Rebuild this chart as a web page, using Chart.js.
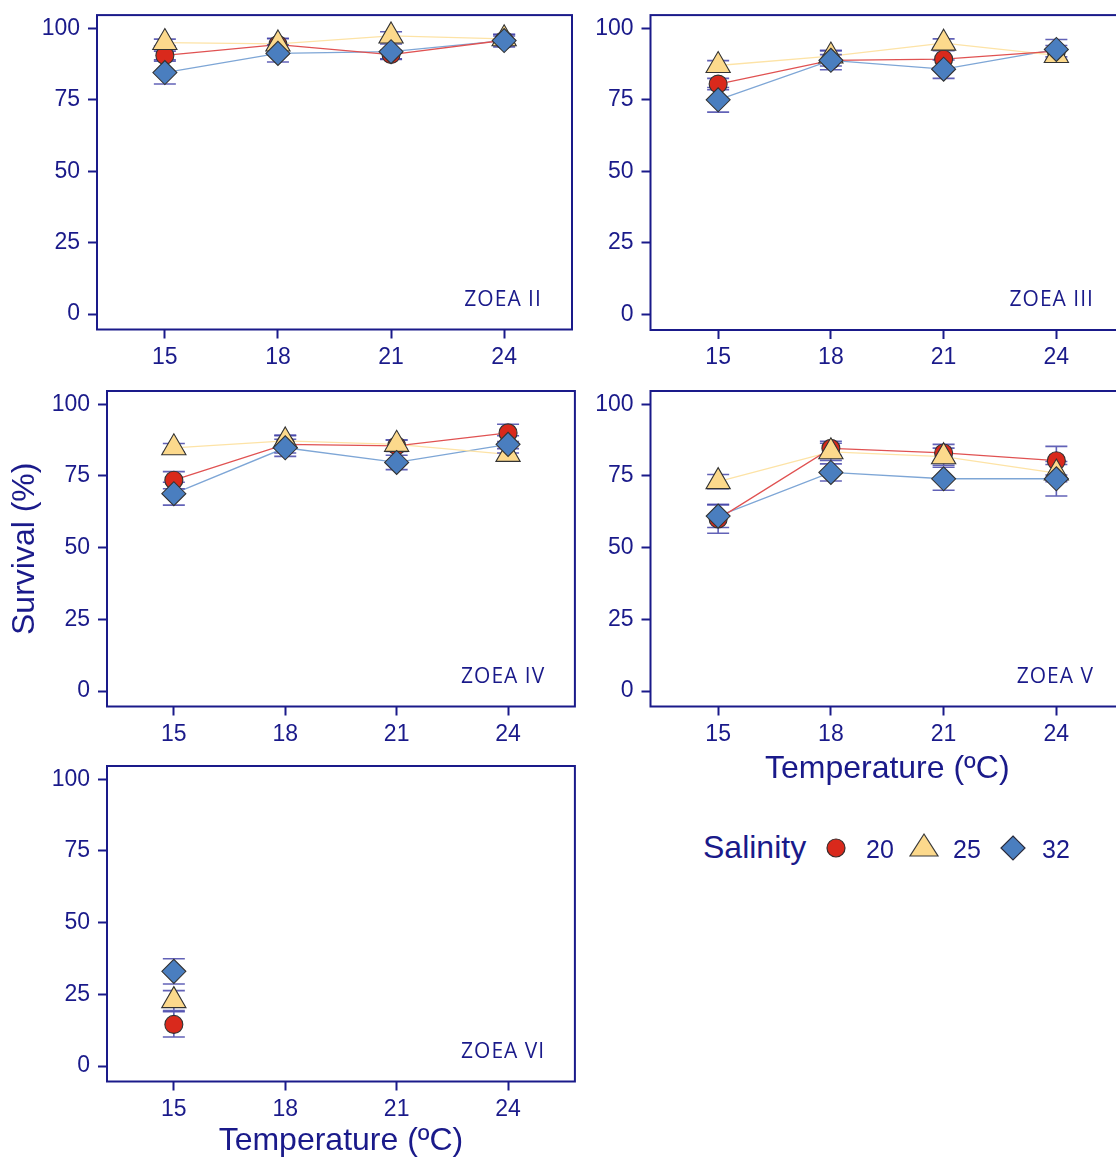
<!DOCTYPE html>
<html>
<head>
<meta charset="utf-8">
<script src="https://cdn.jsdelivr.net/npm/chart.js@4.4.1/dist/chart.umd.min.js"></script>
<style>
  html, body { margin: 0; padding: 0; background: #fff; }
  body { width: 1116px; height: 1160px; overflow: hidden; position: relative; font-family: "Liberation Sans", Arial, sans-serif; color: #1a1a8a; }
  canvas { position: absolute; }
  .lg { position: absolute; white-space: nowrap; line-height: 30px; }
  .lg svg { position: absolute; overflow: visible; }
</style>
</head>
<body>
<canvas id="c1"></canvas>
<canvas id="c2"></canvas>
<canvas id="c3"></canvas>
<canvas id="c4"></canvas>
<canvas id="c5"></canvas>

<div class="lg" style="left:703px; top:832px; font-size:32px;">Salinity</div>
<svg class="lg" style="left:0; top:0;" width="1116" height="1160">
  <circle cx="836" cy="848" r="9" fill="#d9291c" stroke="#3a2a2a" stroke-width="1.2"/>
  <polygon points="924,834 938,856 910,856" fill="#fcd98c" stroke="#3a3a3a" stroke-width="1.2"/>
  <polygon points="1013,836 1025,848 1013,860 1001,848" fill="#4a7ebf" stroke="#2a2a3a" stroke-width="1.2"/>
</svg>
<div class="lg" style="left:866px; top:834px; font-size:25px;">20</div>
<div class="lg" style="left:953px; top:834px; font-size:25px;">25</div>
<div class="lg" style="left:1042px; top:834px; font-size:25px;">32</div>

<script>
// temperatures (x axis) and y ticks
const temps = [15, 18, 21, 24];
const yTicks = [0, 25, 50, 75, 100];
const salinities = ['20', '25', '32'];

// survival (%) means and error bars, per stage and salinity
const zoeaII_20 = [90.5, 94.3, 90.8, 95.8];
const zoeaII_20_err = [1.5, 2, 1.5, 1.5];
const zoeaII_25 = [95.0, 94.5, 97.3, 96.3];
const zoeaII_25_err = [1.2, 2, 1.5, 1.5];
const zoeaII_32 = [84.5, 91.2, 91.8, 95.7];
const zoeaII_32_err = [4, 3, 2.7, 2.2];

const zoeaIII_20 = [80.5, 88.8, 89.2, 92.0];
const zoeaIII_20_err = [2, 2, 3, 2];
const zoeaIII_25 = [87.0, 90.3, 94.8, 90.5];
const zoeaIII_25_err = [1.7, 2, 1.5, 2];
const zoeaIII_32 = [75.0, 88.8, 85.7, 92.6];
const zoeaIII_32_err = [4.3, 3.3, 3.2, 3.5];

const zoeaIV_20 = [73.5, 86.0, 85.5, 90.0];
const zoeaIV_20_err = [3, 3, 2, 3];
const zoeaIV_25 = [84.8, 87.2, 86.0, 82.5];
const zoeaIV_25_err = [1.5, 2, 1.5, 2];
const zoeaIV_32 = [68.8, 84.8, 79.7, 86.0];
const zoeaIV_32_err = [4, 3, 2.5, 3];

const zoeaV_20 = [60.0, 84.6, 83.0, 80.3];
const zoeaV_20_err = [5, 2.5, 3, 5];
const zoeaV_25 = [73.0, 83.4, 81.7, 76.0];
const zoeaV_25_err = [2.5, 3, 3, 3];
const zoeaV_32 = [61.0, 76.2, 74.0, 74.0];
const zoeaV_32_err = [4, 3, 4, 6];

const zoeaVI_20 = [14.5];
const zoeaVI_20_err = [4.4];
const zoeaVI_25 = [22.8];
const zoeaVI_25_err = [3.5];
const zoeaVI_32 = [33.0];
const zoeaVI_32_err = [4.4];

const NAVY = '#1a1a8a';
const TICK_FONT = { family: '"Liberation Sans", Arial, sans-serif', size: 23 };
const TITLE_FONT = { family: '"Liberation Sans", Arial, sans-serif', size: 32 };

// marker / line styles per salinity
const styles = [
  { fill: '#d9291c', line: '#e05252', shape: 'circle', r: 9 },
  { fill: '#fcd98c', line: '#fde3a6', shape: 'triangle', r: 14 },
  { fill: '#4a7ebf', line: '#7ea6d6', shape: 'rectRot', r: 12 }
];

const errPlugin = {
  id: 'errbars',
  beforeDatasetsDraw(chart) {
    chart.$errDone = false;
    const a = chart.chartArea, ctx = chart.ctx;
    ctx.save();
    ctx.strokeStyle = NAVY;
    ctx.lineWidth = 2;
    ctx.strokeRect(a.left, a.top, a.right - a.left, a.bottom - a.top);
    // stage label
    const x = chart.scales.x, y = chart.scales.y;
    ctx.fillStyle = NAVY;
    ctx.font = '21px "Open Sans", sans-serif';
    ctx.letterSpacing = '1px';
    ctx.textAlign = 'right';
    ctx.textBaseline = 'middle';
    ctx.fillText(chart.options.plugins.errbars.label, x.getPixelForValue(25), y.getPixelForValue(5));
    ctx.restore();
  },
  beforeDatasetDraw(chart, args) {
    const ds = chart.data.datasets[args.index];
    if (ds.kind !== 'pts' || chart.$errDone) return;
    chart.$errDone = true;
    const ctx = chart.ctx, x = chart.scales.x, y = chart.scales.y;
    ctx.save();
    ctx.strokeStyle = 'rgba(70,70,170,0.85)';
    ctx.lineWidth = 1.6;
    chart.data.datasets.forEach(d => {
      if (d.kind !== 'pts') return;
      d.data.forEach((p, i) => {
        const e = d.err[i];
        const px = x.getPixelForValue(p.x);
        const y1 = y.getPixelForValue(p.y + e), y2 = y.getPixelForValue(p.y - e);
        ctx.beginPath();
        ctx.moveTo(px, y1); ctx.lineTo(px, y2);
        ctx.moveTo(px - 11, y1); ctx.lineTo(px + 11, y1);
        ctx.moveTo(px - 11, y2); ctx.lineTo(px + 11, y2);
        ctx.stroke();
      });
    });
    ctx.restore();
  }
};

function noPad(s) {
  s.paddingTop = 0; s.paddingBottom = 0; s.paddingLeft = 0; s.paddingRight = 0;
}

function makePanel(p) {
  const cv = document.getElementById(p.id);
  cv.width = p.w; cv.height = p.h;
  cv.style.left = p.left + 'px'; cv.style.top = p.top + 'px';
  cv.style.width = p.w + 'px'; cv.style.height = p.h + 'px';

  const lines = [], pts = [];
  p.series.forEach((vals, k) => {
    const st = styles[k];
    const data = vals.map((v, i) => ({ x: temps[i], y: v }));
    lines.push({
      kind: 'line', label: salinities[k] + ' line', data: data,
      borderColor: st.line, borderWidth: 1.3, pointRadius: 0, showLine: true, order: 10 + k
    });
    pts.push({
      kind: 'pts', label: salinities[k], data: data, err: p.errs[k],
      showLine: false, pointStyle: st.shape, pointRadius: st.r, pointHoverRadius: st.r,
      backgroundColor: st.fill, borderColor: '#333333', borderWidth: 1.1, order: 2 - k
    });
  });

  new Chart(cv, {
    type: 'line',
    data: { datasets: lines.concat(pts) },
    options: {
      responsive: false, animation: false,
      layout: { padding: { top: p.padTop, right: p.padRight, bottom: 0, left: 0 } },
      plugins: { legend: { display: false }, tooltip: { enabled: false }, errbars: { label: p.stage } },
      scales: {
        x: {
          type: 'linear', min: 13.2, max: 25.8,
          afterBuildTicks: s => { s.ticks = temps.map(v => ({ value: v })); },
          afterFit: s => { s.height = p.xH; noPad(s); },
          grid: { drawOnChartArea: false, drawTicks: true, tickLength: 9, tickColor: NAVY, tickWidth: 2 },
          border: { display: false },
          ticks: { color: NAVY, font: TICK_FONT, padding: 5, maxRotation: 0 },
          title: { display: !!p.xTitle, text: 'Temperature (ºC)', color: NAVY, font: TITLE_FONT, padding: { top: 0, bottom: p.titlePad || 0 } }
        },
        y: {
          type: 'linear', min: -5.4, max: 104.6,
          afterBuildTicks: s => { s.ticks = yTicks.map(v => ({ value: v })); },
          afterFit: s => { s.width = p.yW; noPad(s); },
          grid: { drawOnChartArea: false, drawTicks: true, tickLength: 9, tickColor: NAVY, tickWidth: 2 },
          border: { display: false },
          ticks: { color: NAVY, font: TICK_FONT, padding: 8 },
          title: { display: !!p.yTitle, text: 'Survival (%)', color: NAVY, font: TITLE_FONT, padding: { top: 6, bottom: 0 } }
        }
      }
    },
    plugins: [errPlugin]
  });
}

makePanel({ id: 'c1', stage: 'ZOEA II', left: 0, top: 0, w: 590, h: 375, yW: 97, padTop: 12, padRight: 18, xH: 45.5,
  series: [zoeaII_20, zoeaII_25, zoeaII_32], errs: [zoeaII_20_err, zoeaII_25_err, zoeaII_32_err] });
makePanel({ id: 'c2', stage: 'ZOEA III', left: 590, top: 0, w: 560, h: 375, yW: 60.5, padTop: 14, padRight: 26, xH: 45,
  series: [zoeaIII_20, zoeaIII_25, zoeaIII_32], errs: [zoeaIII_20_err, zoeaIII_25_err, zoeaIII_32_err] });
makePanel({ id: 'c3', stage: 'ZOEA IV', left: 0, top: 375, w: 590, h: 380, yW: 107, padTop: 16, padRight: 9, xH: 48.5, yTitle: true,
  series: [zoeaIV_20, zoeaIV_25, zoeaIV_32], errs: [zoeaIV_20_err, zoeaIV_25_err, zoeaIV_32_err] });
makePanel({ id: 'c4', stage: 'ZOEA V', left: 590, top: 375, w: 560, h: 414, yW: 60.5, padTop: 16, padRight: 26, xH: 82.5, xTitle: true, titlePad: 0.8,
  series: [zoeaV_20, zoeaV_25, zoeaV_32], errs: [zoeaV_20_err, zoeaV_25_err, zoeaV_32_err] });
makePanel({ id: 'c5', stage: 'ZOEA VI', left: 0, top: 745, w: 590, h: 415, yW: 107, padTop: 21, padRight: 9, xH: 78.5, xTitle: true,
  series: [zoeaVI_20, zoeaVI_25, zoeaVI_32], errs: [zoeaVI_20_err, zoeaVI_25_err, zoeaVI_32_err] });
</script>
</body>
</html>
